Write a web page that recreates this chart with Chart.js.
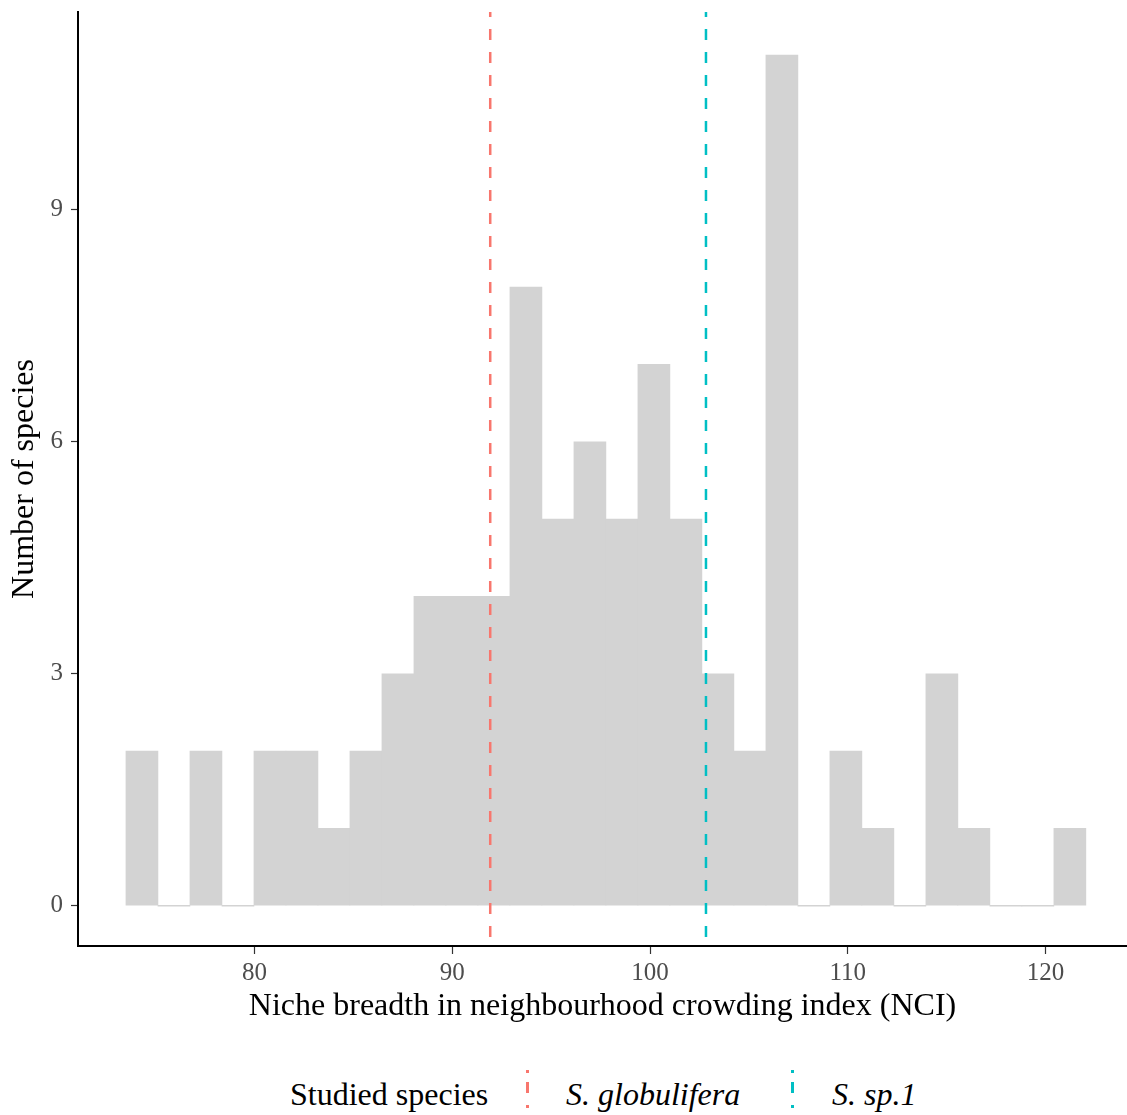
<!DOCTYPE html>
<html lang="en">
<head>
    <meta charset="UTF-8">
    <title>Niche breadth histogram</title>
    <script src="https://cdn.jsdelivr.net/npm/chart.js"></script>
    <style>
        body { margin: 0; background: #fff; overflow: hidden; font-family: "Liberation Serif", "DejaVu Serif", serif; }
        #wrap { position: relative; width: 1127px; height: 1115px; }
        .lg { position: absolute; top: 1074px; line-height: 40px; font-size: 32px; color: #000; white-space: nowrap; }
        .key { position: absolute; top: 1070px; width: 3px; height: 45px; }
    </style>
</head>
<body>
<div id="wrap">
    <canvas id="nciChart" width="1127" height="1050"></canvas>
    <div class="lg" style="left:290px">Studied species</div>
    <div class="key" id="key0" style="left:526px"></div>
    <div class="lg" id="lab0" style="left:566px; font-style:italic"></div>
    <div class="key" id="key1" style="left:791px"></div>
    <div class="lg" id="lab1" style="left:832px; font-style:italic"></div>
</div>
<script>
    // histogram bins (centres) and counts
    const binCenters = [74.309, 75.927, 77.545, 79.163, 80.781, 82.399, 84.017, 85.635, 87.253, 88.871,
                        90.489, 92.107, 93.725, 95.343, 96.961, 98.579, 100.197, 101.815, 103.433, 105.051,
                        106.669, 108.287, 109.905, 111.523, 113.141, 114.759, 116.377, 117.995, 119.613, 121.231];
    const counts = [2, 0, 2, 0, 2, 2, 1, 2, 3, 4,
                    4, 4, 8, 5, 6, 5, 7, 5, 3, 2,
                    11, 0, 2, 1, 0, 3, 1, 0, 0, 1];

    // studied species and their NCI niche breadth
    const studiedNames = ['S. globulifera', 'S. sp.1'];
    const studiedValues = [91.92, 102.83];
    const studiedColors = ['#F8766D', '#00BFC4'];

    const xTicks = [80, 90, 100, 110, 120];
    const yTicks = [0, 3, 6, 9];

    const serif = '"Liberation Serif", "DejaVu Serif", serif';

    const lineSets = studiedValues.map((v, i) => ({
        type: 'line',
        label: studiedNames[i],
        data: [{ x: v, y: -1 }, { x: v, y: 12 }],
        borderColor: studiedColors[i],
        borderWidth: 2.5,
        borderDash: [11, 12],
        pointRadius: 0,
        fill: false,
        order: 0
    }));

    const ctx = document.getElementById('nciChart').getContext('2d');
    new Chart(ctx, {
        type: 'bar',
        data: {
            datasets: [
                ...lineSets,
                {
                    label: 'Number of species',
                    data: binCenters.map((x, i) => ({ x: x, y: counts[i] })),
                    backgroundColor: '#D3D3D3',
                    borderWidth: 0,
                    barPercentage: 1,
                    categoryPercentage: 1,
                    minBarLength: 1,
                    order: 1
                }
            ]
        },
        options: {
            responsive: false,
            animation: false,
            layout: { padding: { top: 12, right: 0, left: 0, bottom: 0 } },
            plugins: {
                legend: { display: false },
                tooltip: { enabled: false }
            },
            scales: {
                x: {
                    type: 'linear',
                    offset: false,
                    min: 71.075,
                    max: 124.12,
                    afterBuildTicks: s => { s.ticks = xTicks.map(v => ({ value: v })); },
                    afterFit: s => { s.height = 1050 - 946; s.paddingLeft = 0; s.paddingRight = 0; },
                    grid: { offset: false, drawOnChartArea: false, drawTicks: true, tickLength: 8, tickColor: '#333333', tickWidth: 1.2 },
                    border: { display: true, color: '#000', width: 2 },
                    ticks: { color: '#4D4D4D', font: { family: serif, size: 25 }, padding: 4, maxRotation: 0 },
                    title: {
                        display: true,
                        text: 'Niche breadth in neighbourhood crowding index (NCI)',
                        color: '#000',
                        font: { family: serif, size: 32 },
                        padding: { top: 0, bottom: 24 }
                    }
                },
                y: {
                    type: 'linear',
                    min: -0.521,
                    max: 11.557,
                    afterBuildTicks: s => { s.ticks = yTicks.map(v => ({ value: v })); },
                    afterFit: s => { s.width = 78; s.paddingTop = 0; s.paddingBottom = 0; },
                    grid: { drawOnChartArea: false, drawTicks: true, tickLength: 7, tickColor: '#333333', tickWidth: 1.2 },
                    border: { display: true, color: '#000', width: 2 },
                    ticks: { color: '#4D4D4D', font: { family: serif, size: 25 }, padding: 8 },
                    title: {
                        display: true,
                        text: 'Number of species',
                        color: '#000',
                        font: { family: serif, size: 32 },
                        padding: { top: 5, bottom: 0 }
                    }
                }
            }
        }
    });

    // legend below the plot
    studiedNames.forEach((name, i) => {
        document.getElementById('lab' + i).textContent = name;
        document.getElementById('key' + i).style.background =
            'repeating-linear-gradient(to bottom, ' + studiedColors[i] + ' 0 3px, transparent 3px 12px, ' +
            studiedColors[i] + ' 12px 23px, transparent 23px 35px)';
    });
</script>
</body>
</html>
